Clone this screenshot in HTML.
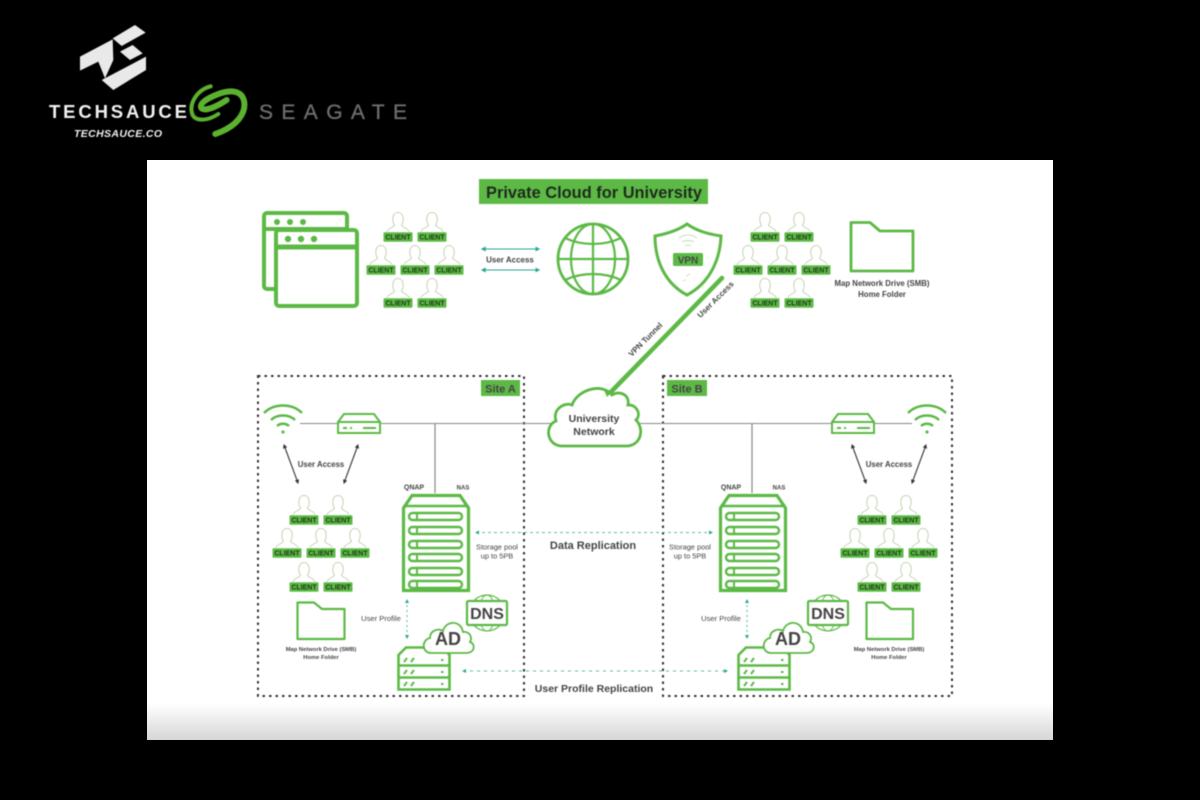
<!DOCTYPE html>
<html>
<head>
<meta charset="utf-8">
<style>
html,body{margin:0;padding:0;background:#000;width:1200px;height:800px;overflow:hidden}
svg{display:block;font-family:"Liberation Sans",sans-serif}
.blur{filter:blur(.6px)}
.logo{filter:blur(.4px)}
.c{font-size:7px;font-weight:bold;fill:#1d3a14;text-anchor:middle}
.t{text-anchor:middle;fill:#444}
</style>
</head>
<body>
<svg width="1200" height="800" viewBox="0 0 1200 800">
<defs>
<linearGradient id="fade" x1="0" y1="0" x2="0" y2="1">
<stop offset="0" stop-color="#fff"/><stop offset="1" stop-color="#d6d6d6"/>
</linearGradient>
<g id="p">
<path d="M-11,-5.5C-10,-9 -4,-9.5 -3.5,-12C-5,-14 -5.5,-17 -5,-20C-4,-26 4,-26 5,-20C5.5,-17 5,-14 3.5,-12C4,-9.5 10,-9 11,-5.5" fill="none" stroke="#b8c8a0" stroke-width=".8"/>
<rect x="-14.5" y="-4.7" width="29" height="9.4" rx="1" fill="#5cb946"/>
</g>
<marker id="a1" viewBox="0 0 8 8" refX="6" refY="4" markerWidth="5" markerHeight="5" orient="auto-start-reverse"><path d="M0,0L8,4L0,8z" fill="#2aa88e"/></marker>
<marker id="a2" viewBox="0 0 8 8" refX="6" refY="4" markerWidth="4" markerHeight="4" orient="auto-start-reverse"><path d="M0,0L8,4L0,8z" fill="#333"/></marker>
<g id="wifi" fill="none" stroke="#5cb946" stroke-width="2.4">
<path d="M-19,-19C-9,-29 9,-29 19,-19"/><path d="M-12,-12C-6,-18 6,-18 12,-12"/><path d="M-6,-6C-3,-9 3,-9 6,-6"/><circle cx="0" cy="0" r="1.6" fill="#5cb946" stroke="none"/>
</g>
<g id="sw" fill="none" stroke="#5cb946" stroke-width="2">
<path d="M1,8L7,0H37L43,8V19H1Z" fill="#fff"/><path d="M1,8H43"/><path d="M6,14H10M13,14H15M26,14H39"/>
</g>
<g id="nas">
<path d="M1.5,14L10,1.5H58L66.5,14V96.5H1.5Z" fill="#fff" stroke="#5cb946" stroke-width="3.2"/>
<path d="M1.5,12H66.5" stroke="#5cb946" stroke-width="2.6"/>
<g fill="#fff" stroke="#5cb946" stroke-width="2.4">
<rect x="7" y="19" width="53" height="7" rx="3.5"/><rect x="7" y="33" width="53" height="7" rx="3.5"/><rect x="7" y="47" width="53" height="7" rx="3.5"/><rect x="7" y="60" width="53" height="7" rx="3.5"/><rect x="7" y="74" width="53" height="7" rx="3.5"/><rect x="7" y="87" width="53" height="7" rx="3.5"/>
</g>
<path d="M15,19v7M15,33v7M15,47v7M15,60v7M15,74v7M15,87v7" stroke="#5cb946" stroke-width="2"/>
</g>
<g id="srv">
<path d="M1.5,9L9,1.5H46L52.5,9V43.5H1.5Z" fill="#fff" stroke="#5cb946" stroke-width="2.6"/>
<path d="M1.5,19.5H52.5M1.5,31.5H52.5" fill="none" stroke="#5cb946" stroke-width="2.4"/>
<path d="M7,16l3,-4M14,16l3,-4M7,28l3,-4M14,28l3,-4M7,40l3,-4M14,40l3,-4M44,14h2.500M44,26h2.500M44,38h2.500" fill="none" stroke="#5cb946" stroke-width="2"/>
</g>
<g id="adc">
<path d="M-17,16C-26,16 -27,3 -18,1C-18,-7 -9,-9 -5,-6C-2,-17 13,-17 15,-5C21,-6 25,0 22,5C28,7 27,16 18,16Z" fill="#fff" stroke="#5cb946" stroke-width="1.8"/>
</g>
<g id="dnsg">
<circle cx="0" cy="0" r="18" fill="#fff" stroke="#5cb946" stroke-width="1.2"/>
<ellipse cx="0" cy="0" rx="8" ry="18" fill="none" stroke="#5cb946" stroke-width=".9"/>
<rect x="-20" y="-12" width="40" height="24" rx="1.5" fill="#fff" stroke="#5cb946" stroke-width="2.2"/>
</g>
</defs>

<rect width="1200" height="800" fill="#000"/>

<!-- Logos -->
<g class="logo">
<g transform="translate(30,10) scale(.3333)">
<g fill="#e9e9e9">
<polygon points="248,85 315,45 347,68 275,108"/>
<polygon points="150,140 248,88 250,150 225,205 205,155 150,182"/>
<polygon points="270,125 308,105 338,130 300,150"/>
<polygon points="215,210 348,140 348,180 250,240"/>
</g>
<g fill="none" stroke="#5cb12f" stroke-linecap="round">
<path d="M542,229C500,240 478,280 486,310C494,338 535,332 565,312" stroke-width="12"/>
<path d="M556,372C620,350 650,310 642,272C634,240 600,238 560,254C530,266 508,280 514,294C524,306 560,290 590,270" stroke-width="18"/>
</g>
</g>
<text x="49" y="118" font-size="18.500" font-weight="bold" fill="#f0f0f0" textLength="138" lengthAdjust="spacing">TECHSAUCE</text>
<text x="74" y="137" font-size="10.500" font-weight="bold" font-style="italic" fill="#f0f0f0" textLength="88" lengthAdjust="spacing">TECHSAUCE.CO</text>
<text x="259" y="119" font-size="21" fill="#6c6c6c" stroke="#6c6c6c" stroke-width=".35" textLength="148" lengthAdjust="spacing">SEAGATE</text>
</g>

<!-- Panel -->
<rect x="147" y="160" width="906" height="580" fill="#fff"/>
<rect x="147" y="704" width="906" height="36" fill="url(#fade)"/>

<g class="blur">
<!-- Title -->
<rect x="479" y="179" width="229" height="25" fill="#5cb946"/>
<text x="486" y="198" font-size="17" font-weight="bold" fill="#1f2b1b" textLength="216" lengthAdjust="spacingAndGlyphs">Private Cloud for University</text>

<!-- Browser windows -->
<rect x="264" y="213" width="83" height="76" rx="3" fill="#fff" stroke="#5cb946" stroke-width="4"/>
<path d="M264,229H347" stroke="#5cb946" stroke-width="4"/>
<circle cx="277" cy="222" r="3" fill="#5cb946"/><circle cx="290" cy="222" r="3" fill="#5cb946"/><circle cx="303" cy="222" r="3" fill="#5cb946"/>
<rect x="276" y="230" width="81" height="76" rx="3" fill="#fff" stroke="#5cb946" stroke-width="4"/>
<path d="M276,247H357" stroke="#5cb946" stroke-width="5"/>
<circle cx="288" cy="239" r="3.2" fill="#5cb946"/><circle cx="301" cy="239" r="3.2" fill="#5cb946"/><circle cx="314" cy="239" r="3.2" fill="#5cb946"/>

<!-- Clusters -->
<g transform="translate(0,0)">
<use href="#p" x="398" y="237"/><use href="#p" x="432" y="237"/><use href="#p" x="381" y="270"/><use href="#p" x="415" y="270"/><use href="#p" x="449" y="270"/><use href="#p" x="398" y="303"/><use href="#p" x="432" y="303"/>
<text class="c" x="398" y="239.5">CLIENT</text><text class="c" x="432" y="239.5">CLIENT</text><text class="c" x="381" y="272.5">CLIENT</text><text class="c" x="415" y="272.5">CLIENT</text><text class="c" x="449" y="272.5">CLIENT</text><text class="c" x="398" y="305.5">CLIENT</text><text class="c" x="432" y="305.5">CLIENT</text>
</g>
<g transform="translate(367,0)">
<use href="#p" x="398" y="237"/><use href="#p" x="432" y="237"/><use href="#p" x="381" y="270"/><use href="#p" x="415" y="270"/><use href="#p" x="449" y="270"/><use href="#p" x="398" y="303"/><use href="#p" x="432" y="303"/>
<text class="c" x="398" y="239.5">CLIENT</text><text class="c" x="432" y="239.5">CLIENT</text><text class="c" x="381" y="272.5">CLIENT</text><text class="c" x="415" y="272.5">CLIENT</text><text class="c" x="449" y="272.5">CLIENT</text><text class="c" x="398" y="305.5">CLIENT</text><text class="c" x="432" y="305.5">CLIENT</text>
</g>
<g transform="translate(-94,283)">
<use href="#p" x="398" y="237"/><use href="#p" x="432" y="237"/><use href="#p" x="381" y="270"/><use href="#p" x="415" y="270"/><use href="#p" x="449" y="270"/><use href="#p" x="398" y="304"/><use href="#p" x="432" y="304"/>
<text class="c" x="398" y="239.5">CLIENT</text><text class="c" x="432" y="239.5">CLIENT</text><text class="c" x="381" y="272.5">CLIENT</text><text class="c" x="415" y="272.5">CLIENT</text><text class="c" x="449" y="272.5">CLIENT</text><text class="c" x="398" y="306.5">CLIENT</text><text class="c" x="432" y="306.5">CLIENT</text>
</g>
<g transform="translate(474,283)">
<use href="#p" x="398" y="237"/><use href="#p" x="432" y="237"/><use href="#p" x="381" y="270"/><use href="#p" x="415" y="270"/><use href="#p" x="449" y="270"/><use href="#p" x="398" y="304"/><use href="#p" x="432" y="304"/>
<text class="c" x="398" y="239.5">CLIENT</text><text class="c" x="432" y="239.5">CLIENT</text><text class="c" x="381" y="272.5">CLIENT</text><text class="c" x="415" y="272.5">CLIENT</text><text class="c" x="449" y="272.5">CLIENT</text><text class="c" x="398" y="306.5">CLIENT</text><text class="c" x="432" y="306.5">CLIENT</text>
</g>

<!-- User access top -->
<path d="M482,249H539" stroke="#2aa88e" stroke-width="1" marker-start="url(#a1)" marker-end="url(#a1)"/>
<path d="M482,270H539" stroke="#2aa88e" stroke-width="1" marker-start="url(#a1)" marker-end="url(#a1)"/>
<text class="t" x="510" y="262.500" font-size="8" font-weight="bold" fill="#555">User Access</text>

<!-- Globe -->
<g fill="none" stroke="#5cb946" stroke-width="2.8">
<circle cx="593" cy="259" r="35"/>
<ellipse cx="593" cy="259" rx="22" ry="35" stroke-width="2.2"/>
<path d="M593,224V294M558,259H628" stroke-width="2.2"/>
<path d="M565,238C582,246 604,246 621,238M565,280C582,272 604,272 621,280" stroke-width="2.2"/>
</g>

<!-- VPN shield -->
<path d="M687,224C677,231 666,234 655,236C655,262 666,284 687,295C708,284 720,262 721,236C708,234 697,231 687,224Z" fill="#fff" stroke="#5cb946" stroke-width="3"/>
<rect x="673" y="253" width="30" height="13" rx="1.5" fill="#5cb946"/>
<text class="t" x="688" y="263.500" font-size="10" font-weight="bold" fill="#1f2b1b">VPN</text>
<g fill="none" stroke="#c9d9bd" stroke-width=".9"><path d="M679,238C684,234 692,234 697,238M682,242C685,240 691,240 694,242M685,246C687,245 689,245 691,246"/><path d="M686,276l4,-2M683,281l3,-1"/></g>

<!-- Tunnel line -->
<path d="M722,278L607,396" stroke="#5cb946" stroke-width="4.5" stroke-linecap="round"/>
<text class="t" x="646" y="342" font-size="8" font-weight="bold" fill="#444" transform="rotate(-45 646 340)">VPN Tunnel</text>
<text class="t" x="716" y="302" font-size="8" font-weight="bold" fill="#444" transform="rotate(-45 716 300)">User Access</text>

<!-- Folder top right -->
<path d="M851,222.500H870L880,231H913V271H851Z" fill="#fff" stroke="#5cb946" stroke-width="2.800" stroke-linejoin="round"/>
<text class="t" x="882" y="286" font-size="7.800" font-weight="bold" fill="#555">Map Network Drive (SMB)</text>
<text class="t" x="882" y="297" font-size="7.800" font-weight="bold" fill="#555">Home Folder</text>

<!-- Site boxes -->
<rect x="258" y="376" width="266" height="320" fill="none" stroke="#333" stroke-width="2" stroke-dasharray="2.500 4"/>
<rect x="663" y="376" width="289" height="320" fill="none" stroke="#333" stroke-width="2" stroke-dasharray="2.500 4"/>
<rect x="481" y="380" width="39" height="16" fill="#5cb946"/>
<text class="t" x="500.500" y="392.500" font-size="11" font-weight="bold" fill="#1f2b1b">Site A</text>
<rect x="667" y="380" width="40" height="16" fill="#5cb946"/>
<text class="t" x="687" y="392.500" font-size="11" font-weight="bold" fill="#1f2b1b">Site B</text>

<!-- Network lines -->
<path d="M300,423.500H912" stroke="#888" stroke-width="1"/>
<path d="M435,424V493M752,424V493" stroke="#888" stroke-width="1.200"/>

<!-- Wifi / switches -->
<use href="#wifi" x="283" y="432"/>
<use href="#wifi" x="927" y="432"/>
<use href="#sw" x="337" y="414"/>
<use href="#sw" x="831" y="414"/>

<!-- Cloud -->
<path d="M561,446C547,445 544,426 556,421C552,408 566,402 572,405C577,390 602,382 612,395C620,390 630,395 628,405C636,404 642,414 636,420C644,428 642,444 628,446Z" fill="#fff" stroke="#5cb946" stroke-width="2.800"/>
<text class="t" x="594" y="422" font-size="10.500" font-weight="bold" fill="#555">University</text>
<text class="t" x="594" y="435" font-size="10.500" font-weight="bold" fill="#555">Network</text>
<path d="M607,397L604,390L612,392Z" fill="#5cb946"/>

<!-- Access arrows -->
<g stroke="#333" stroke-width="1.100" fill="none">
<path d="M284,445L298,483" marker-start="url(#a2)" marker-end="url(#a2)"/>
<path d="M358,445L344,483" marker-start="url(#a2)" marker-end="url(#a2)"/>
<path d="M852,445L866,483" marker-start="url(#a2)" marker-end="url(#a2)"/>
<path d="M926,445L912,483" marker-start="url(#a2)" marker-end="url(#a2)"/>
</g>
<text class="t" x="321" y="467" font-size="7.800" font-weight="bold" fill="#666">User Access</text>
<text class="t" x="889" y="467" font-size="7.800" font-weight="bold" fill="#666">User Access</text>

<!-- NAS -->
<use href="#nas" x="402" y="494"/>
<use href="#nas" x="719" y="494"/>
<text class="t" x="414" y="489.500" font-size="7" font-weight="bold" fill="#333">QNAP</text>
<text class="t" x="463" y="489.500" font-size="6" font-weight="bold" fill="#555">NAS</text>
<text class="t" x="731" y="489.500" font-size="7" font-weight="bold" fill="#333">QNAP</text>
<text class="t" x="779" y="489.500" font-size="6" font-weight="bold" fill="#555">NAS</text>

<text class="t" x="497" y="549.500" font-size="7.400" fill="#888">Storage pool</text>
<text class="t" x="497" y="558.500" font-size="7.400" fill="#888">up to 5PB</text>
<text class="t" x="690" y="549.500" font-size="7.400" fill="#888">Storage pool</text>
<text class="t" x="690" y="558.500" font-size="7.400" fill="#888">up to 5PB</text>

<!-- Replication -->
<path d="M476,532.500H712" stroke="#2aa88e" stroke-width=".8" stroke-dasharray="3 3" marker-start="url(#a1)" marker-end="url(#a1)"/>
<text class="t" x="593" y="549" font-size="11" font-weight="bold" fill="#444">Data Replication</text>
<path d="M463,671H727" stroke="#2aa88e" stroke-width=".8" stroke-dasharray="3 4" marker-start="url(#a1)" marker-end="url(#a1)"/>
<text class="t" x="594" y="692" font-size="10.500" font-weight="bold" fill="#444">User Profile Replication</text>

<!-- Profile arrows -->
<path d="M407,600V638" stroke="#2aa88e" stroke-width=".8" stroke-dasharray="2 3" marker-start="url(#a1)" marker-end="url(#a1)"/>
<path d="M747,600V638" stroke="#2aa88e" stroke-width=".8" stroke-dasharray="2 3" marker-start="url(#a1)" marker-end="url(#a1)"/>
<text class="t" x="381" y="621" font-size="7.600" fill="#888">User Profile</text>
<text class="t" x="721" y="621" font-size="7.600" fill="#888">User Profile</text>

<!-- Folders in sites -->
<path d="M297.500,602.500H314L322,609H344.500V639H297.500Z" fill="#fff" stroke="#5cb946" stroke-width="2.200" stroke-linejoin="round"/>
<text class="t" x="321" y="651" font-size="5.800" font-weight="bold" fill="#444">Map Network Drive (SMB)</text>
<text class="t" x="321" y="659" font-size="5.800" font-weight="bold" fill="#444">Home Folder</text>
<path d="M866.500,602.500H883L891,609H913V639H866.500Z" fill="#fff" stroke="#5cb946" stroke-width="2.200" stroke-linejoin="round"/>
<text class="t" x="889" y="651" font-size="5.800" font-weight="bold" fill="#444">Map Network Drive (SMB)</text>
<text class="t" x="889" y="659" font-size="5.800" font-weight="bold" fill="#444">Home Folder</text>

<!-- Servers -->
<use href="#srv" x="397" y="646"/>
<use href="#srv" x="737" y="646"/>

<!-- DNS / AD -->
<use href="#dnsg" x="487" y="613"/>
<text class="t" x="487" y="619" font-size="16" font-weight="bold" fill="#2c2c2c">DNS</text>
<use href="#dnsg" x="828" y="613"/>
<text class="t" x="828" y="619" font-size="16" font-weight="bold" fill="#2c2c2c">DNS</text>
<use href="#adc" x="448" y="637"/>
<text class="t" x="448" y="645" font-size="18" font-weight="bold" fill="#2c2c2c">AD</text>
<use href="#adc" x="788" y="637"/>
<text class="t" x="788" y="645" font-size="18" font-weight="bold" fill="#2c2c2c">AD</text>
</g>
</svg>
</body>
</html>
